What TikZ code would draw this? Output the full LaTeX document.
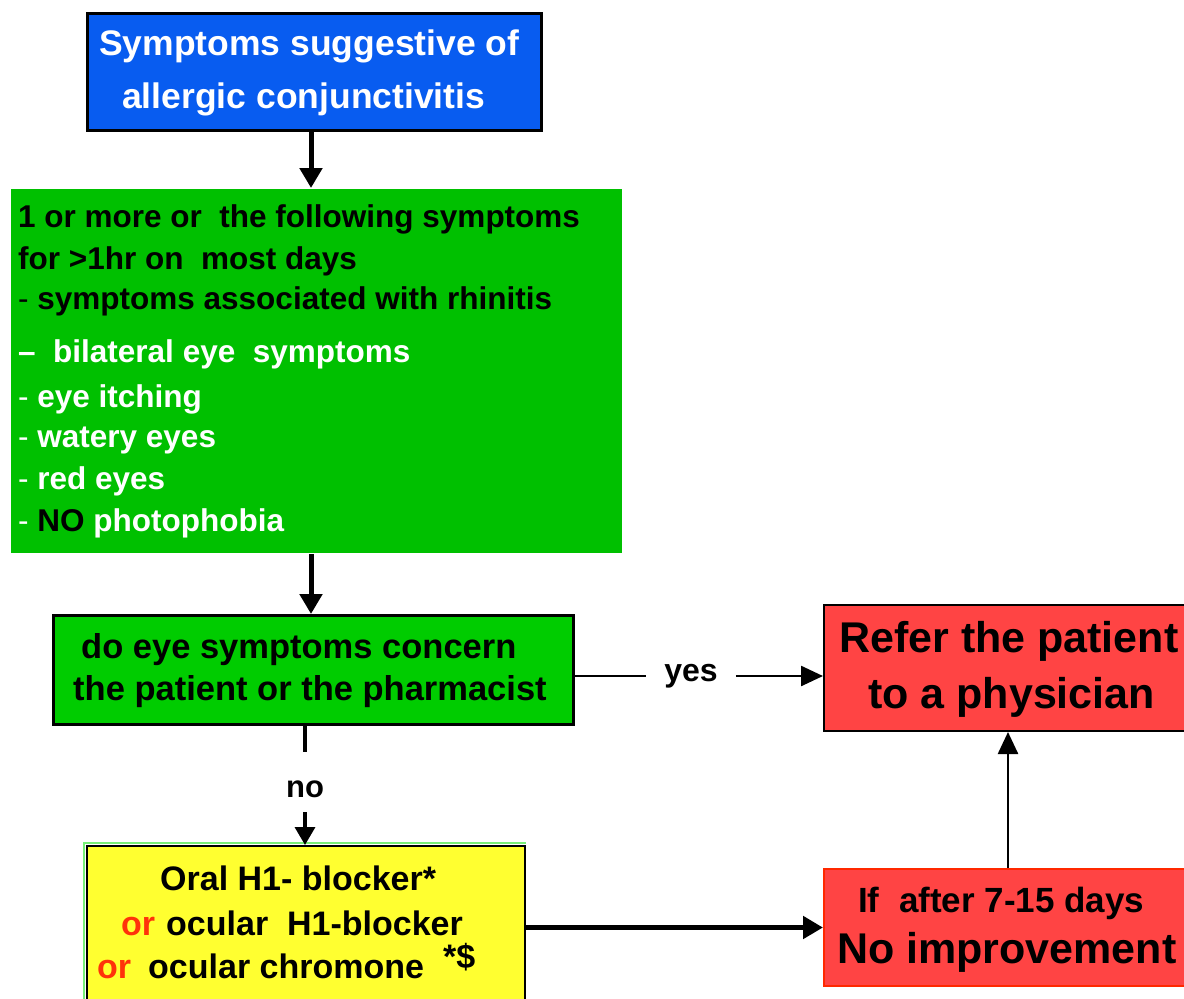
\documentclass[tikz,border=0pt]{standalone}
\usepackage{fontspec}
\setmainfont{Liberation Sans}
\usetikzlibrary{arrows.meta,calc}
\definecolor{boxblue}{RGB}{8,92,240}
\definecolor{greenA}{RGB}{0,192,0}
\definecolor{greenB}{RGB}{0,204,0}
\definecolor{boxred}{RGB}{255,68,68}
\definecolor{redline}{RGB}{255,40,0}
\definecolor{boxyellow}{RGB}{255,255,48}
\definecolor{ortext}{RGB}{255,50,10}
\definecolor{lightgreen}{RGB}{120,240,120}
\newcommand\fsz[1]{\fontsize{#1}{#1}\selectfont}
\begin{document}
\begin{tikzpicture}[x=1pt,y=-1pt,
  box/.style={line width=2pt,inner sep=0pt,anchor=north west},
  txt/.style={anchor=base west,inner sep=0pt},
  bigarrow/.style={line width=5pt,-{Triangle[length=20pt,width=22pt]}},
  thinarrow/.style={line width=2.5pt,-{Triangle[length=22pt,width=20pt]}},
  plainline/.style={line width=2.5pt}]
\useasboundingbox (0,0) rectangle (1184,999);
\fill[white] (0,0) rectangle (1184,999);

% boxes
\node[box,draw=black,line width=2.5pt,fill=boxblue,minimum width=454pt,minimum height=117pt] (blue) at (86,12) {};
\node[box,draw=none,fill=greenA,minimum width=611pt,minimum height=364pt] (green1) at (10,188) {};
\node[box,draw=black,line width=2.5pt,fill=greenB,minimum width=520pt,minimum height=109pt] (green2) at (52,614) {};
\node[box,draw=black,fill=boxred,minimum width=366pt,minimum height=126pt] (red1) at (823,604) {};
\draw[lightgreen,line width=2pt] (84,1003) -- (84,843) -- (526,843);
\node[box,draw=black,fill=boxyellow,minimum width=438pt,minimum height=160pt] (yellow) at (86,845) {};
\node[box,draw=redline,fill=boxred,minimum width=366pt,minimum height=117pt] (red2) at (823,868) {};

% texts
\begin{scope}[every node/.style={txt,font=\bfseries\fsz{35.5},text=white}]
\node (b1) at (99,55) {Symptoms suggestive of};
\node (b2) at (122,108) {allergic conjunctivitis};
\end{scope}
\begin{scope}[every node/.style={txt,font=\bfseries\fsz{31.5}}]
\node (g1) at (18,227) {1 or more or~ the following symptoms};
\node (g2) at (18,269) {for >1hr on~ most days};
\node (g3) at (18,309) {{\mdseries -} symptoms associated~with rhinitis};
\node[text=white] (g4) at (18,362) {–~ bilateral eye~ symptoms};
\node[text=white] (g5) at (18,407) {{\mdseries -} eye itching};
\node[text=white] (g6) at (18,447) {{\mdseries -} watery eyes};
\node[text=white] (g7) at (18,489) {{\mdseries -} red eyes};
\node[text=white] (g8) at (18,531) {{\mdseries -} \textcolor{black}{NO} photophobia};
\end{scope}
\begin{scope}[every node/.style={txt,font=\bfseries\fsz{34.5}}]
\node (q1) at (81,658) {do eye symptoms concern};
\node (q2) at (73,700) {the patient or the pharmacist};
\end{scope}
\begin{scope}[every node/.style={txt,font=\bfseries\fsz{43}}]
\node (r1) at (839,652) {Refer the patient};
\node (r2) at (868,708) {to a physician};
\node (n2) at (837,963) {No improvement};
\end{scope}
\node[txt,font=\bfseries\fsz{35}] (n1) at (858,912) {If~ after 7-15 days};
\begin{scope}[every node/.style={txt,font=\bfseries\fsz{34}}]
\node (y1) at (160,890) {Oral H1- blocker*};
\node[text=ortext] (y2a) at (121,935) {or};
\node (y2b) at (166,935) {ocular~ H1-blocker};
\node[text=ortext] (y3a) at (97,978) {or};
\node (y3b) at (148,978) {ocular chromone};
\node (y3c) at (443,968) {*\$};
\end{scope}

% labels on connectors
\coordinate (yesline) at (691,676);
\node[anchor=base,inner ysep=0pt,inner xsep=18pt,font=\bfseries\fsz{32}] (yes) at (691,681) {yes};
\coordinate (notop) at (305,752);
\coordinate (nobot) at (305,812);
\node[anchor=base,inner sep=0pt,font=\bfseries\fsz{31}] (no) at (305,797) {no};
\coordinate (upx) at (1008,868);
\coordinate (downx) at (311,0);

% connectors
\draw[bigarrow] (blue.south -| downx) -- (green1.north -| downx);
\draw[bigarrow] (green1.south -| downx) -- (green2.north -| downx);
\draw[plainline] (green2.east |- yesline) -- (yes.west |- yesline);
\draw[thinarrow] (yes.east |- yesline) -- (red1.west |- yesline);
\draw[line width=4pt] (green2.south -| notop) -- (notop);
\draw[line width=3.5pt,-{Triangle[length=18pt,width=20pt]}] (nobot) -- (yellow.north -| nobot);
\draw[bigarrow] (yellow.east |- red2.west) -- (red2.west);
\draw[thinarrow] (red2.north -| upx) -- (red1.south -| upx);
\end{tikzpicture}
\end{document}
